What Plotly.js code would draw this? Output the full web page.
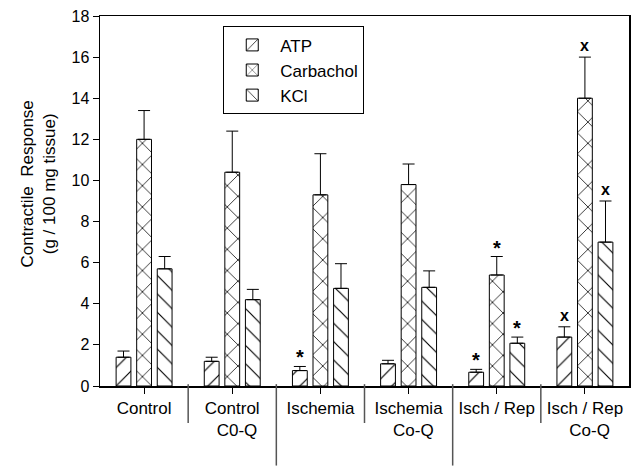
<!DOCTYPE html>
<html>
<head>
<meta charset="utf-8">
<script src="https://cdn.plot.ly/plotly-3.0.1.min.js"></script>
<style>html,body{margin:0;padding:0;background:#fff;}#chart{width:634px;height:467px;}</style>
</head>
<body>
<div id="chart"></div>
<script>
// Data
var groups = ["Control", "Control C0-Q", "Ischemia", "Ischemia Co-Q", "Isch / Rep", "Isch / Rep Co-Q"];
var tickLabels = ["Control", "Control<br>\u00a0\u00a0C0-Q", "Ischemia", "Ischemia<br>\u00a0\u00a0Co-Q", "Isch / Rep", "Isch / Rep<br>\u00a0\u00a0Co-Q"];
var seriesNames = ["ATP", "Carbachol", "KCl"];
var atp = [1.4, 1.2, 0.75, 1.08, 0.67, 2.38];
var atpErr = [0.3, 0.2, 0.2, 0.17, 0.14, 0.5];
var carbachol = [12.0, 10.4, 9.3, 9.8, 5.4, 14.0];
var carbacholErr = [1.4, 2.0, 2.0, 1.0, 0.9, 2.0];
var kcl = [5.7, 4.2, 4.75, 4.8, 2.08, 7.0];
var kclErr = [0.6, 0.5, 1.2, 0.8, 0.3, 2.0];
var atpSig = ["", "", "*", "", "*", "x"];
var carbacholSig = ["", "", "", "", "*", "x"];
var kclSig = ["", "", "", "", "*", "x"];

var idx = groups.map(function(_, i){ return i; });
var patterns = ["/", "x", "\\"];
var patSizes = [13, 15, 13];
var patSolid = [0.09, 0.1, 0.09];
var vals = [atp, carbachol, kcl];
var errs = [atpErr, carbacholErr, kclErr];
var sigs = [atpSig, carbacholSig, kclSig];

var traces = vals.map(function(v, s){
  return {
    type: "bar", name: seriesNames[s], x: idx, y: v,
    marker: {color: "#ffffff", line: {color: "#000", width: 1},
             pattern: {shape: patterns[s], fgcolor: "#000", bgcolor: "#fff", size: patSizes[s], solidity: patSolid[s]}},
    error_y: {type: "data", symmetric: false, array: errs[s], arrayminus: v.map(function(){return 0;}),
              color: "#000", thickness: 1, width: 6}
  };
});

var bargap = 0.3;
var slot = (1 - bargap) / 3;
var annotations = [];
sigs.forEach(function(sg, s){
  sg.forEach(function(t, i){
    if (!t) return;
    annotations.push({x: i + (s - 1) * slot, y: vals[s][i] + errs[s][i], xref: "x", yref: "y",
      text: t === "x" ? "<b>x</b>" : "<b>*</b>", showarrow: false, yanchor: "bottom", yshift: t === "x" ? 1 : -4,
      font: {family: "Liberation Sans, Arial, sans-serif", size: t === "x" ? 16 : 20, color: "#000"}});
  });
});
annotations.push({x: -0.117, y: 0.545, xref: "paper", yref: "paper", showarrow: false, textangle: -90,
  text: "Contractile  Response<br>(g / 100 mg tissue)", xanchor: "center", yanchor: "middle",
  font: {family: "Liberation Sans, Arial, sans-serif", size: 17, color: "#000"}});

var shapes = [];
for (var k = 0; k < groups.length - 1; k++) {
  var longLine = (k % 2 === 1);
  shapes.push({type: "line", xref: "x", yref: "paper", x0: k + 0.5, x1: k + 0.5, y0: 0.005,
    y1: longLine ? -0.215 : -0.1, line: {color: "#555", width: 1.5}});
}

var layout = {
  width: 634, height: 467,
  margin: {l: 100, r: 5, t: 16, b: 81},
  paper_bgcolor: "#fff", plot_bgcolor: "#fff",
  font: {family: "Liberation Sans, Arial, sans-serif", size: 16, color: "#000"},
  barmode: "group", bargap: bargap, bargroupgap: 0.28,
  showlegend: true,
  legend: {x: 0.233, y: 0.972, xanchor: "left", yanchor: "top", bordercolor: "#000", borderwidth: 1,
           bgcolor: "#fff", font: {size: 17}, itemwidth: 46, tracegroupgap: 0},
  xaxis: {type: "linear", range: [-0.5, 5.5], tickvals: idx, ticktext: tickLabels, showgrid: false, zeroline: false,
          ticks: "outside", ticklen: 6, tickcolor: "#000", showline: true, linecolor: "#000", linewidth: 1.5, mirror: true,
          tickfont: {size: 17}},
  yaxis: {range: [0, 18], dtick: 2, showgrid: false, zeroline: false, ticks: "outside", ticklen: 6, tickcolor: "#000",
          showline: true, linecolor: "#000", linewidth: 1.5, mirror: true, tickfont: {size: 16}},
  annotations: annotations,
  shapes: shapes
};

Plotly.newPlot("chart", traces, layout, {displayModeBar: false, staticPlot: true});
</script>
</body>
</html>
